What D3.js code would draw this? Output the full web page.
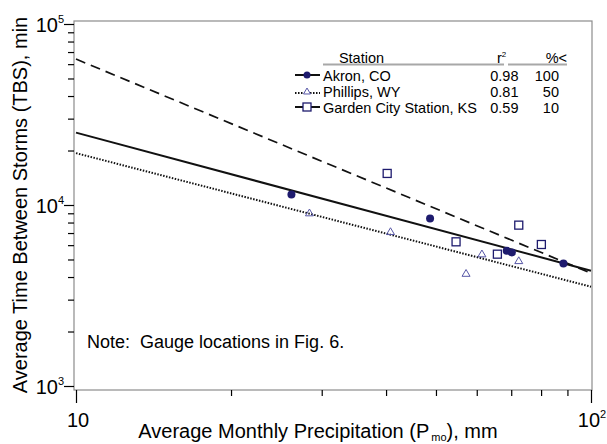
<!DOCTYPE html>
<html>
<head>
<meta charset="utf-8">
<script src="https://cdn.jsdelivr.net/npm/d3@7"></script>
<style>
  body { margin: 0; background: #fff; }
  svg { font-family: Arial, "Liberation Sans", sans-serif; }
  text { white-space: pre; }
</style>
</head>
<body>
<svg width="607" height="444"></svg>
<script>
// measured points, P (mm) vs TBS (min)
var akronP = [26.2, 48.7, 68.6, 70.2, 88.4];
var akronTBS = [11440, 8425, 5580, 5465, 4750];
var phillipsP = [28.4, 40.8, 57.2, 61.4, 72.4];
var phillipsTBS = [9100, 7170, 4215, 5400, 4955];
var gardenP = [40.2, 54.7, 65.8, 72.4, 80.1];
var gardenTBS = [14940, 6260, 5350, 7740, 6050];

// regression lines, values at P = 10 and P = 100
var fitP = [10, 100];
var akronFit = [25100, 4335];
var phillipsFit = [19350, 3536];
var gardenFit = [64000, 4200];

// legend table
var stations = ["Akron, CO", "Phillips, WY", "Garden City Station, KS"];
var r2 = ["0.98", "0.81", "0.59"];
var pctLess = ["100", "50", "10"];

var xMajor = [10, 100];
var xMinor = [20, 30, 40, 50, 60, 70, 80, 90];
var yMajor = [1e3, 1e4, 1e5];
var yMinor = [2e3, 3e3, 4e3, 5e3, 6e3, 7e3, 8e3, 9e3, 2e4, 3e4, 4e4, 5e4, 6e4, 7e4, 8e4, 9e4];

var navy = "#1e1b6e";

var svg = d3.select("svg");

var x = d3.scaleLog().domain([10, 100]).range([76, 591]);
var y = d3.scaleLog().domain([1e3, 1e5]).range([386, 24]);

// frame
svg.append("rect")
    .attr("x", 74).attr("y", 21)
    .attr("width", 518).attr("height", 369)
    .attr("fill", "none")
    .attr("stroke", "#8c8c8c")
    .attr("stroke-width", 1.2);

// ticks
function tickAxis(axis, g) {
  g.call(axis);
  g.select(".domain").remove();
  g.selectAll(".tick line").attr("stroke", "#000").attr("stroke-width", 1.2);
  g.selectAll(".tick text").remove();
}
tickAxis(d3.axisBottom(x).tickValues(xMinor).tickSize(6),
    svg.append("g").attr("transform", "translate(0,390)"));
tickAxis(d3.axisBottom(x).tickValues(xMajor).tickSize(13),
    svg.append("g").attr("transform", "translate(0,390)"));
tickAxis(d3.axisLeft(y).tickValues(yMinor).tickSize(6),
    svg.append("g").attr("transform", "translate(74,0)"));
tickAxis(d3.axisLeft(y).tickValues(yMajor).tickSize(10),
    svg.append("g").attr("transform", "translate(74,0)"));

// tick labels
var xl = svg.append("g").selectAll("text")
    .data(xMajor).enter().append("text")
    .attr("x", function (d) { return x(d) + (d === 10 ? 2 : 1); })
    .attr("y", 427)
    .attr("text-anchor", "middle")
    .style("font-size", "20px");
xl.append("tspan").text("10");
xl.filter(function (d) { return d !== 10; })
    .append("tspan")
    .attr("dy", -9)
    .style("font-size", "11px")
    .text(function (d) { return Math.round(Math.log10(d)); });

var yl = svg.append("g").selectAll("text")
    .data(yMajor).enter().append("text")
    .attr("x", 64)
    .attr("y", function (d) { return y(d) + 8; })
    .attr("text-anchor", "end")
    .style("font-size", "20px");
yl.append("tspan").text("10");
yl.append("tspan")
    .attr("dy", -9)
    .style("font-size", "11px")
    .text(function (d) { return Math.round(Math.log10(d)); });

// axis titles
var xt = svg.append("text")
    .attr("x", 318).attr("y", 438)
    .attr("text-anchor", "middle")
    .style("font-size", "20px");
xt.append("tspan").text("Average Monthly Precipitation (P");
xt.append("tspan").attr("dy", 3).attr("dx", 2).style("font-size", "11px").text("mo");
xt.append("tspan").attr("dy", -3).text("), mm");

svg.append("text")
    .attr("transform", "translate(27,205) rotate(-90)")
    .attr("text-anchor", "middle")
    .style("font-size", "20px")
    .text("Average Time Between Storms (TBS), min");

// fitted lines
var line = d3.line()
    .x(function (d) { return x(d[0]); })
    .y(function (d) { return y(d[1]); });

svg.append("path")
    .datum(d3.zip(fitP, gardenFit))
    .attr("d", line)
    .attr("fill", "none").attr("stroke", "#111")
    .attr("stroke-width", 1.7)
    .attr("stroke-dasharray", "10,6");
svg.append("path")
    .datum(d3.zip(fitP, akronFit))
    .attr("d", line)
    .attr("fill", "none").attr("stroke", "#111")
    .attr("stroke-width", 2);
svg.append("path")
    .datum(d3.zip(fitP, phillipsFit))
    .attr("d", line)
    .attr("fill", "none").attr("stroke", "#111")
    .attr("stroke-width", 2)
    .attr("stroke-dasharray", "1.5,1.5");

// markers
function tri(cx, cy, s) {
  var h = s * 0.85;
  return "M" + cx + "," + (cy - h / 2) + "L" + (cx + s / 2) + "," + (cy + h / 2) +
         "L" + (cx - s / 2) + "," + (cy + h / 2) + "Z";
}

svg.append("g").selectAll("rect")
    .data(d3.zip(gardenP, gardenTBS)).enter().append("rect")
    .attr("x", function (d) { return x(d[0]) - 4; })
    .attr("y", function (d) { return y(d[1]) - 4; })
    .attr("width", 8).attr("height", 8)
    .attr("fill", "#fff").attr("stroke", navy).attr("stroke-width", 1.3);

svg.append("g").selectAll("path")
    .data(d3.zip(phillipsP, phillipsTBS)).enter().append("path")
    .attr("d", function (d) { return tri(x(d[0]), y(d[1]), 8); })
    .attr("fill", "none").attr("stroke", "#5656a6").attr("stroke-width", 1);

svg.append("g").selectAll("circle")
    .data(d3.zip(akronP, akronTBS)).enter().append("circle")
    .attr("cx", function (d) { return x(d[0]); })
    .attr("cy", function (d) { return y(d[1]); })
    .attr("r", 4)
    .attr("fill", navy);

// legend
var lg = svg.append("g").style("font-size", "14.5px");
lg.append("line").attr("x1", 323).attr("x2", 504).attr("y1", 64.5).attr("y2", 64.5)
    .attr("stroke", "#a8a8a8").attr("stroke-width", 2);
lg.append("line").attr("x1", 508).attr("x2", 567).attr("y1", 64.5).attr("y2", 64.5)
    .attr("stroke", "#a8a8a8").attr("stroke-width", 2);
lg.append("text").attr("x", 361.5).attr("y", 62.5).attr("text-anchor", "middle").text("Station");
var rh = lg.append("text").attr("x", 497).attr("y", 62.5);
rh.append("tspan").text("r");
rh.append("tspan").attr("dy", -6).style("font-size", "8px").text("2");
lg.append("text").attr("x", 567).attr("y", 62.5).attr("text-anchor", "end").text("%<");

var rowY = d3.range(stations.length).map(function (i) { return 80.5 + i * 16; });
stations.forEach(function (s, i) {
  var by = rowY[i];
  lg.append("text").attr("x", 323).attr("y", by).text(s);
  lg.append("text").attr("x", 518.5).attr("y", by).attr("text-anchor", "end").text(r2[i]);
  lg.append("text").attr("x", 559).attr("y", by).attr("text-anchor", "end").text(pctLess[i]);
});

var sy = rowY.map(function (v) { return v - 5.5; });
lg.append("line").attr("x1", 295).attr("x2", 320).attr("y1", sy[0]).attr("y2", sy[0])
    .attr("stroke", "#111").attr("stroke-width", 2);
lg.append("circle").attr("cx", 307).attr("cy", sy[0]).attr("r", 3.5).attr("fill", navy);
lg.append("line").attr("x1", 295).attr("x2", 320).attr("y1", sy[1] + 2).attr("y2", sy[1] + 2)
    .attr("stroke", "#111").attr("stroke-width", 2).attr("stroke-dasharray", "1.5,1.5");
lg.append("path").attr("d", tri(307, sy[1], 7))
    .attr("fill", "#fff").attr("stroke", "#5656a6").attr("stroke-width", 1);
lg.append("line").attr("x1", 295).attr("x2", 320).attr("y1", sy[2]).attr("y2", sy[2])
    .attr("stroke", "#111").attr("stroke-width", 2);
lg.append("rect").attr("x", 303).attr("y", sy[2] - 4).attr("width", 8).attr("height", 8)
    .attr("fill", "#fff").attr("stroke", navy).attr("stroke-width", 1.3);

// note
svg.append("text")
    .attr("x", 87).attr("y", 348)
    .style("font-size", "18px")
    .text("Note:  Gauge locations in Fig. 6.");
</script>
</body>
</html>
